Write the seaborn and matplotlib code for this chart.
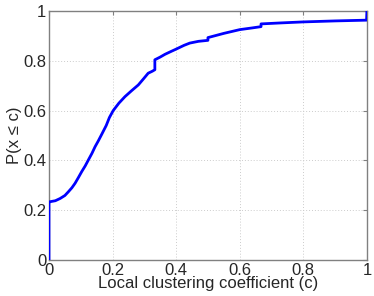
import matplotlib
matplotlib.use("Agg")
import matplotlib.pyplot as plt
import seaborn as sns
import pandas as pd

# CDF of local clustering coefficient
clustering = [0.0, 0.0, 0.003, 0.02, 0.035, 0.05, 0.061, 0.072, 0.082, 0.092, 0.103,
              0.114, 0.124, 0.135, 0.145, 0.155, 0.166, 0.18, 0.19, 0.202, 0.22,
              0.239, 0.26, 0.281, 0.297, 0.312, 0.325, 0.333, 0.333, 0.35, 0.365,
              0.385, 0.402, 0.425, 0.443, 0.47, 0.5, 0.5, 0.55, 0.6, 0.64, 0.667,
              0.667, 0.73, 0.8, 0.9, 0.999, 1.0]
cdf = [0.0, 0.232, 0.234, 0.238, 0.247, 0.259, 0.274, 0.29, 0.308, 0.33, 0.355,
       0.378, 0.402, 0.428, 0.455, 0.478, 0.505, 0.54, 0.572, 0.6, 0.63,
       0.656, 0.68, 0.703, 0.727, 0.75, 0.758, 0.764, 0.804, 0.815, 0.826,
       0.838, 0.848, 0.862, 0.871, 0.878, 0.882, 0.893, 0.91, 0.925, 0.932, 0.937,
       0.948, 0.952, 0.956, 0.96, 0.963, 1.0]

x_ticks = [0, 0.2, 0.4, 0.6, 0.8, 1]
y_ticks = [0, 0.2, 0.4, 0.6, 0.8, 1]
x_labels = ["0", "0.2", "0.4", "0.6", "0.8", "1"]
y_labels = ["0", "0.2", "0.4", "0.6", "0.8", "1"]

df = pd.DataFrame({"c": clustering, "p": cdf})

sns.set_style("white")
plt.rcParams["font.family"] = ["Liberation Sans", "DejaVu Sans"]

fig = plt.figure(figsize=(3.74, 2.96), dpi=100)
ax = fig.add_axes([0.131, 0.1216, 0.85, 0.8414])

sns.lineplot(data=df, x="c", y="p", sort=False, estimator=None, color="#0000ff",
             linewidth=2.0, ax=ax, zorder=3)

ax.set_xlim(0, 1)
ax.set_ylim(0, 1)
ax.set_xticks(x_ticks)
ax.set_xticklabels(x_labels)
ax.set_yticks(y_ticks)
ax.set_yticklabels(y_labels)
ax.grid(True, linestyle=(0, (1, 2)), color="#cccccc", linewidth=0.7)
for s in ax.spines.values():
    s.set_visible(True)
    s.set_color("#808080")
    s.set_linewidth(1.0)
ax.tick_params(axis="both", direction="in", length=3, color="#808080",
               labelsize=12, pad=2, top=True, right=True)
ax.set_xlabel("Local clustering coefficient (c)", fontsize=12, labelpad=-1)
ax.set_ylabel("P(x ≤ c)", fontsize=12, labelpad=1)

fig.savefig("out.png", dpi=100)
